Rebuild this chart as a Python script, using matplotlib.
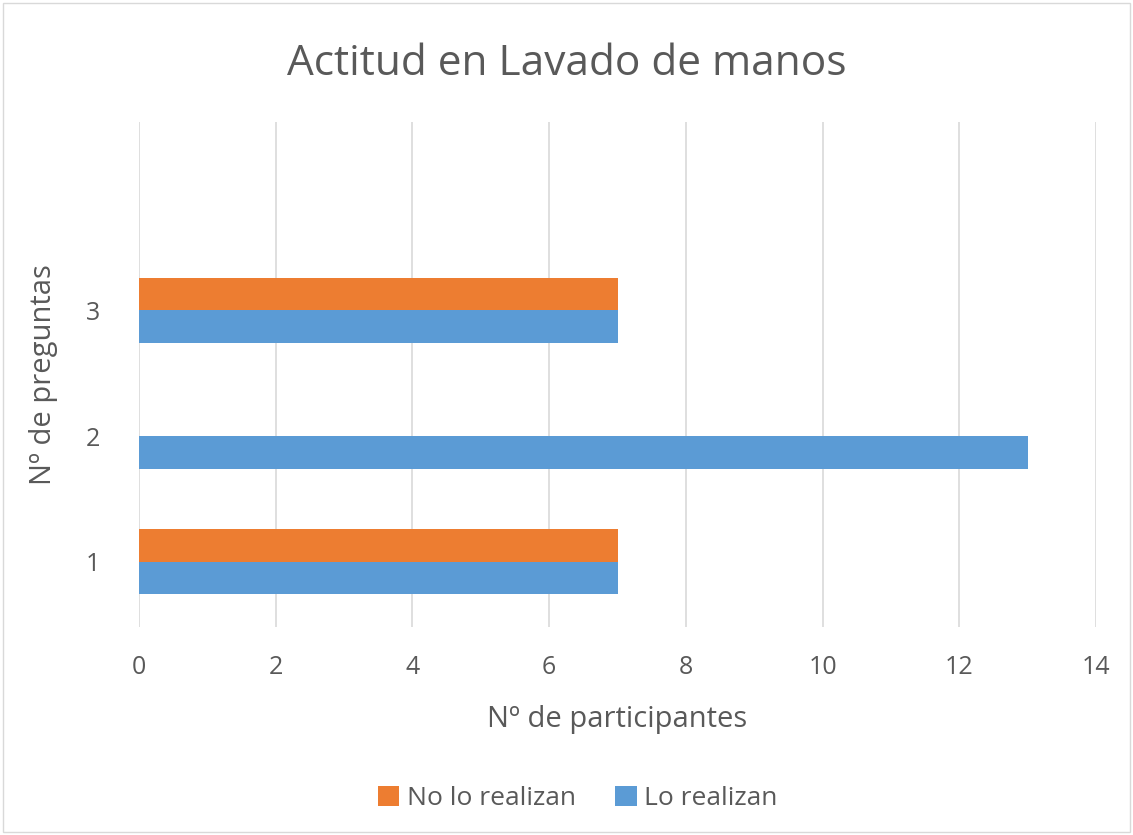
import numpy as np
import matplotlib
matplotlib.use('Agg')
import matplotlib.pyplot as plt

plt.rcParams['font.family'] = ['Open Sans', 'DejaVu Sans']

preguntas = [1, 2, 3]
lo_realizan = [7, 13, 7]
no_lo_realizan = [7, 0, 7]
xticks = [0, 2, 4, 6, 8, 10, 12, 14]

txt = '#595959'
azul = '#5B9BD5'
naranja = '#ED7D31'

fig = plt.figure(figsize=(11.33, 8.35), dpi=100)
fig.patches.append(plt.Rectangle((0.003, 0.003), 0.994, 0.994, transform=fig.transFigure,
                                 fill=False, edgecolor='#D9D9D9', linewidth=1))
ax = fig.add_axes([0.1227, 0.2491, 0.8447, 0.6048])

y = np.array(preguntas)
h = 0.26
ax.barh(y - h / 2, lo_realizan, height=h, color=azul, label='Lo realizan', zorder=3)
ax.barh(y + h / 2, no_lo_realizan, height=h, color=naranja, label='No lo realizan', zorder=3)

ax.set_xlim(0, 14)
ax.set_ylim(0.48, 4.5)
ax.set_xticks(xticks)
ax.set_yticks(preguntas)
ax.grid(axis='x', color='#D9D9D9', linewidth=1.2, zorder=0)
for s in ax.spines.values():
    s.set_visible(False)
ax.tick_params(length=0, labelsize=18, labelcolor=txt)
ax.tick_params(axis='x', pad=20)
ax.tick_params(axis='y', pad=28)

ax.set_xlabel('Nº de participantes', fontsize=21, color=txt, labelpad=18)
ax.set_ylabel('Nº de preguntas', fontsize=21, color=txt, labelpad=20)
fig.suptitle('Actitud en Lavado de manos', fontsize=30.5, color=txt, y=0.948)

handles, labels = ax.get_legend_handles_labels()
fig.legend(handles[::-1], labels[::-1], loc='center', bbox_to_anchor=(0.51, 0.044), ncol=2,
           frameon=False, fontsize=19, labelcolor=txt, handlelength=0.8, handleheight=0.8,
           handletextpad=0.3, columnspacing=1.5)

fig.savefig('out.png', dpi=100, facecolor='white')
